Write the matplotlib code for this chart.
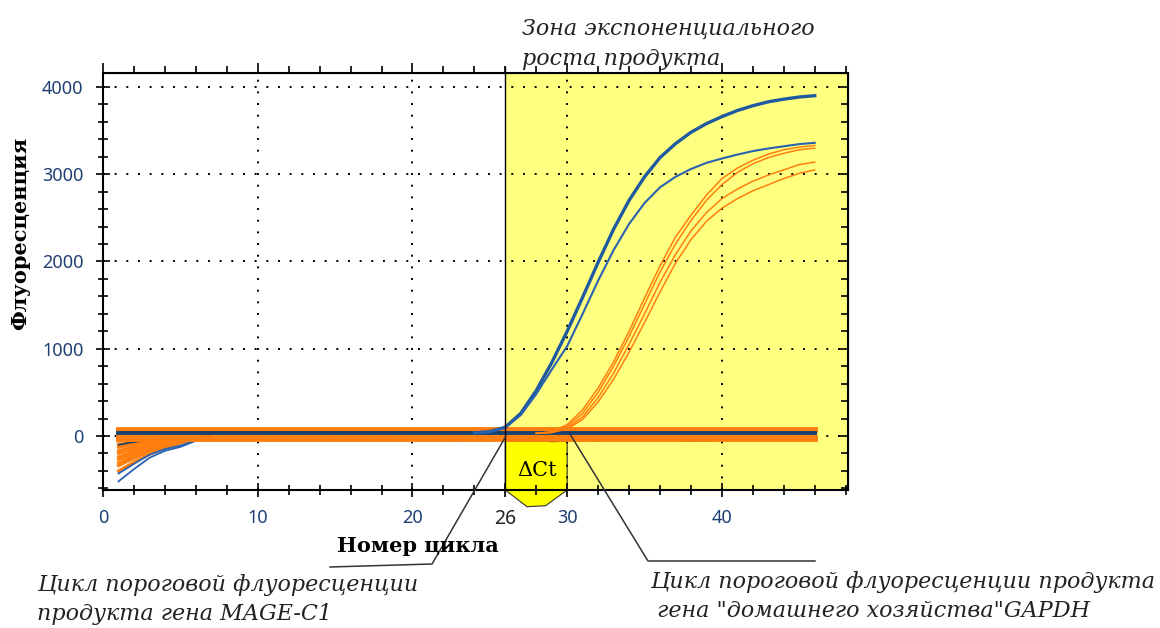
import numpy as np
import matplotlib
matplotlib.use("Agg")
import matplotlib.pyplot as plt
from matplotlib.patches import Rectangle, Polygon
from matplotlib.ticker import MultipleLocator

# ---- data ----
dip_cycles = [1, 2, 3, 4, 5, 6, 7]
orange_dips = [
    [-60, -40, -25, -15, -10, -5, 0],
    [-100, -70, -45, -28, -15, -8, 0],
    [-130, -90, -60, -35, -20, -10, 0],
    [-170, -120, -80, -50, -28, -12, 0],
    [-200, -145, -95, -60, -35, -15, 0],
    [-240, -175, -115, -72, -42, -18, 0],
    [-270, -200, -135, -85, -50, -20, 0],
    [-310, -230, -155, -98, -58, -22, -3],
    [-340, -255, -175, -110, -65, -25, -5],
    [-400, -300, -210, -135, -80, -35, -5],
]
blue_dips = [
    [-520, -380, -250, -170, -125, -55, -15],
    [-430, -320, -215, -150, -110, -50, -10],
]
navy_dip = [-100, -70, -45, -30, -20, -10, 0]

# flat baseline band (cycles 1..46)
band_start, band_end = 1, 46
orange_band_levels = [85, 65, -10, -35]
navy_band_level = 35

# small sags of the baseline traces
sag_cycles = [20, 21, 22, 23, 24, 25, 26, 27, 28, 29, 30, 31, 32, 33, 34, 35, 36, 37, 38, 39, 40, 41, 42]
sag_values = [-10, -15, -40, -55, -40, -20, -10, -20, -45, -60, -55, -40, -50, -30, -15, -10, -20, -40, -55, -50, -30, -15, -10]

# GAPDH (blue) curves, cycles 24..46
blue_cycles = list(range(24, 47))
blue_a = [35, 50, 100, 260, 520, 840, 1200, 1590, 1990, 2370, 2700, 2970, 3190, 3350,
          3480, 3580, 3660, 3730, 3785, 3830, 3860, 3885, 3900]
blue_b = [35, 50, 95, 240, 480, 760, 1030, 1400, 1780, 2130, 2430, 2670, 2850, 2970,
          3060, 3130, 3180, 3225, 3265, 3295, 3320, 3345, 3360]

# MAGE-C1 (orange) curves, cycles 28..46
orange_cycles = list(range(28, 47))
orange_curves = [
    [30, 50, 130, 300, 550, 850, 1200, 1580, 1950, 2280, 2530, 2760, 2950, 3070, 3160, 3230, 3280, 3310, 3330],
    [30, 45, 110, 260, 500, 800, 1140, 1510, 1880, 2200, 2470, 2700, 2880, 3020, 3120, 3190, 3240, 3280, 3300],
    [30, 40, 90, 220, 440, 720, 1050, 1400, 1760, 2080, 2350, 2560, 2720, 2830, 2920, 2990, 3050, 3110, 3140],
    [30, 40, 80, 190, 390, 650, 960, 1300, 1650, 1980, 2250, 2460, 2610, 2720, 2810, 2880, 2950, 3010, 3050],
]

ct_gapdh = 26
ct_mage = 30
threshold = -60
x_ticks = [0, 10, 20, 26, 30, 40]
y_ticks = [0, 1000, 2000, 3000, 4000]

ORANGE = "#ff7f0e"
NAVY = "#17406d"
BLUE = "#2a62b0"
LABEL_C = "#1f3f73"
SERIF = ["DejaVu Serif"]
XMAX, YMIN, YMAX = 48.15, -619, 4160

W, H = 1160, 628
fig = plt.figure(figsize=(W / 100, H / 100), dpi=100)
ax = fig.add_axes([103 / W, 1 - 490 / H, (848 - 103) / W, (490 - 73) / H])
ax.set_xlim(0, XMAX)
ax.set_ylim(YMIN, YMAX)

# exponential zone and the delta-Ct box
ax.add_patch(Rectangle((ct_gapdh, YMIN), XMAX - ct_gapdh, YMAX - YMIN,
                       facecolor="#ffff80", edgecolor="none", zorder=0))
ax.add_patch(Polygon([(ct_gapdh, threshold), (ct_mage, threshold), (ct_mage, YMIN),
                      (28.6, -800), (27.4, -810), (ct_gapdh, YMIN)],
                     closed=True, facecolor="#ffff00", edgecolor="#333333",
                     linewidth=0.8, zorder=1, clip_on=False))

# dotted grid
for gx in [10, 20, 30, 40]:
    ax.plot([gx, gx], [YMIN, YMAX], color="black", lw=1.4, ls=(0, (1, 5)), zorder=2)
for gy in [0, 1000, 2000, 3000, 4000]:
    ax.plot([0, XMAX], [gy, gy], color="black", lw=1.4, ls=(0, (1, 5)), zorder=2)

# early-cycle dips
for d in orange_dips:
    ax.plot(dip_cycles, d, color=ORANGE, lw=2.2, zorder=3)
for d in blue_dips:
    ax.plot(dip_cycles, d, color=BLUE, lw=1.3, zorder=3)
ax.plot(dip_cycles, navy_dip, color=NAVY, lw=1.2, zorder=3)

# baseline band
ax.plot(sag_cycles, sag_values, color=NAVY, lw=1.5, zorder=3)
for lv in orange_band_levels:
    ax.plot([band_start, band_end], [lv, lv], color=ORANGE, lw=3.5, zorder=4)
ax.plot([band_start, band_end], [navy_band_level, navy_band_level], color=NAVY, lw=2.8, zorder=5)

# amplification curves
for oc in orange_curves:
    ax.plot(orange_cycles, oc, color=ORANGE, lw=1.1, zorder=6)
ax.plot(blue_cycles, blue_a, color="#1f5aa0", lw=2.4, zorder=7)
ax.plot(blue_cycles, blue_b, color=BLUE, lw=1.5, zorder=7)

# Ct line
ax.plot([ct_gapdh, ct_gapdh], [YMIN, 4230], color="black", lw=1.0, zorder=8, clip_on=False)

# axes styling
for s in ax.spines.values():
    s.set_linewidth(1.5)
    s.set_zorder(9)
ax.set_xticks(x_ticks)
ax.xaxis.set_minor_locator(MultipleLocator(2))
ax.set_yticks(y_ticks)
ax.yaxis.set_minor_locator(MultipleLocator(200))
ax.tick_params(which="both", direction="inout", width=1.2)
ax.tick_params(which="major", length=10)
ax.tick_params(which="minor", length=7)
ax.tick_params(axis="x", pad=9, labelsize=13, labelcolor=LABEL_C)
ax.tick_params(axis="y", pad=9, labelsize=13, labelcolor=LABEL_C)
for lab, t in zip(ax.get_xticklabels(), x_ticks):
    lab.set_fontfamily("Noto Sans")
    if t == ct_gapdh:
        lab.set_color("#222222")
        lab.set_fontsize(14)
for lab in ax.get_yticklabels():
    lab.set_fontfamily("Noto Sans")

# outward ticks on top, inward ticks on right
top = ax.secondary_xaxis("top")
top.set_xticks([0, 10, 20, 30, 40], labels=[])
top.xaxis.set_minor_locator(MultipleLocator(2))
top.tick_params(which="both", direction="out", width=1.2)
top.tick_params(which="major", length=7)
top.tick_params(which="minor", length=5)
right = ax.secondary_yaxis("right")
right.set_yticks(y_ticks, labels=[])
right.yaxis.set_minor_locator(MultipleLocator(200))
right.tick_params(which="both", direction="in", width=1.2)
right.tick_params(which="major", length=7)
right.tick_params(which="minor", length=5)

# texts
fig.text(20 / W, 1 - 233 / H, "Флуоресценция", rotation=90, ha="center", va="center",
         fontsize=15, fontweight="bold", family=SERIF)
fig.text(418 / W, 1 - 546 / H, "Номер цикла", ha="center", va="center",
         fontsize=15, fontweight="bold", family=SERIF)
fig.text(537 / W, 1 - 470 / H, "ΔCt", ha="center", va="center", fontsize=15, family=SERIF)
fig.text(522 / W, 1 - 35 / H, "Зона экспоненциального", ha="left", va="baseline",
         fontsize=16, style="italic", family=SERIF, color="#222222")
fig.text(522 / W, 1 - 65 / H, "роста продукта", ha="left", va="baseline",
         fontsize=16, style="italic", family=SERIF, color="#222222")
fig.text(37 / W, 1 - 591 / H, "Цикл пороговой флуоресценции", ha="left", va="baseline",
         fontsize=16, style="italic", family=SERIF, color="#222222")
fig.text(37 / W, 1 - 620 / H, "продукта гена MAGE-C1", ha="left", va="baseline",
         fontsize=16, style="italic", family=SERIF, color="#222222")
fig.text(650 / W, 1 - 588 / H, "Цикл пороговой флуоресценции продукта", ha="left", va="baseline",
         fontsize=16, style="italic", family=SERIF, color="#222222")
fig.text(650 / W, 1 - 617 / H, " гена \"домашнего хозяйства\"GAPDH", ha="left", va="baseline",
         fontsize=16, style="italic", family=SERIF, color="#222222")

# leader lines (figure pixels)
def fig_line(px, py, **kw):
    fig.add_artist(plt.Line2D([x / W for x in px], [1 - y / H for y in py],
                              color="#333333", lw=1.1, **kw))

fig_line([506, 432, 330], [436, 564, 567])
fig_line([570, 648, 815], [434, 561, 561])

fig.savefig("out.png", dpi=100)
